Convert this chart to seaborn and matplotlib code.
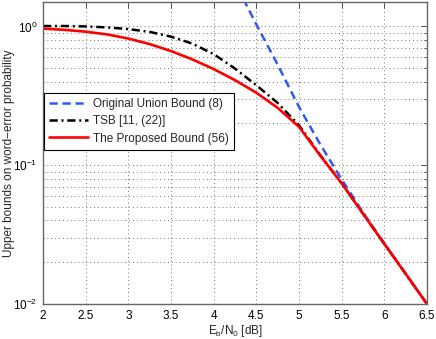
import numpy as np
import pandas as pd
import matplotlib
matplotlib.use("Agg")
import matplotlib.pyplot as plt
import seaborn as sns

# Eb/N0 grid [dB]
ebno = [2.0, 2.25, 2.5, 2.75, 3.0, 3.25, 3.5, 3.75, 4.0, 4.25,
        4.5, 4.75, 5.0, 5.25, 5.5, 5.75, 6.0, 6.25, 6.5]

# Upper bounds
union_ebno = [4.25, 4.5, 4.75, 5.0, 5.25, 5.5, 5.75, 6.0, 6.25, 6.5]
union_bound = [2.07, 1.035, 0.53, 0.263, 0.141, 0.079, 0.0457, 0.0272, 0.0165, 0.01]

tsb_bound = [1.007, 1.007, 1.0, 0.984, 0.957, 0.914, 0.844, 0.752, 0.632, 0.497,
             0.377, 0.281, 0.194, 0.118, 0.0742, 0.0448, 0.0271, 0.0165, 0.01]

proposed_bound = [0.965, 0.945, 0.917, 0.876, 0.818, 0.746, 0.665, 0.579, 0.493, 0.41,
                  0.333, 0.259, 0.189, 0.117, 0.074, 0.0447, 0.0271, 0.0165, 0.01]

labels = ["Original Union Bound (8)", "TSB [11, (22)]", "The Proposed Bound (56)"]

sns.set_theme(style="white")
plt.rcParams["font.family"] = ["Liberation Sans", "DejaVu Sans"]
plt.rcParams["mathtext.default"] = "regular"
plt.rcParams["font.size"] = 8.5

fig = plt.figure(figsize=(4.36, 3.39), dpi=100)
ax = fig.add_axes([43 / 436, 35 / 339, 384 / 436, 302 / 339])

df_union = pd.DataFrame({"x": union_ebno, "y": union_bound})
df_tsb = pd.DataFrame({"x": ebno, "y": tsb_bound})
df_prop = pd.DataFrame({"x": ebno, "y": proposed_bound})

sns.lineplot(data=df_union, x="x", y="y", ax=ax, color="#2f5af5", linewidth=1.8,
             linestyle=(0, (3.3, 1.9)), label=labels[0], legend=False)
sns.lineplot(data=df_tsb, x="x", y="y", ax=ax, color="black", linewidth=1.8,
             linestyle=(0, (3.3, 1.5, 0.8, 1.5)), label=labels[1], legend=False)
sns.lineplot(data=df_prop, x="x", y="y", ax=ax, color="#ff0000", linewidth=1.9,
             label=labels[2], legend=False)

ax.set_yscale("log")
ax.set_xlim(2, 6.5)
ax.set_ylim(1e-2, 1.5)
ax.set_xticks(np.arange(2, 6.51, 0.5))
ax.set_xticklabels(["2", "2.5", "3", "3.5", "4", "4.5", "5", "5.5", "6", "6.5"])
ax.yaxis.set_major_locator(matplotlib.ticker.LogLocator(base=10, numticks=5))
ax.yaxis.set_minor_locator(matplotlib.ticker.LogLocator(base=10, subs=np.arange(2, 10), numticks=20))
ax.yaxis.set_minor_formatter(matplotlib.ticker.NullFormatter())

ax.grid(True, which="major", axis="both", linestyle=(0, (1, 3)), color="0.45", linewidth=0.7)
ax.grid(True, which="minor", axis="y", linestyle=(0, (1, 3)), color="0.45", linewidth=0.7)
ax.tick_params(which="both", direction="in", top=True, right=True, colors="0.3",
               labelcolor="black", labelsize=8.5)
ax.tick_params(which="major", length=4, width=0.7, pad=4)
ax.tick_params(which="minor", length=2, width=0.6)
for sp in ax.spines.values():
    sp.set_color("0.4")
    sp.set_linewidth(1.0)

ax.set_xlabel(r"E$_b$/N$_0$ [dB]", fontsize=8.5, labelpad=1)
ax.set_ylabel("Upper bounds on word\u2212error probability", fontsize=8.5)
ax.yaxis.set_label_coords(-0.074, 0.5)

leg = ax.legend(loc="upper left", bbox_to_anchor=(0.002, 0.70), borderaxespad=0,
                fancybox=False, framealpha=1, edgecolor="black", fontsize=8.5,
                handlelength=3.3, handletextpad=0.4, labelspacing=0.45, borderpad=0.45)
leg.get_frame().set_linewidth(0.8)

fig.savefig("out.png", dpi=100)
